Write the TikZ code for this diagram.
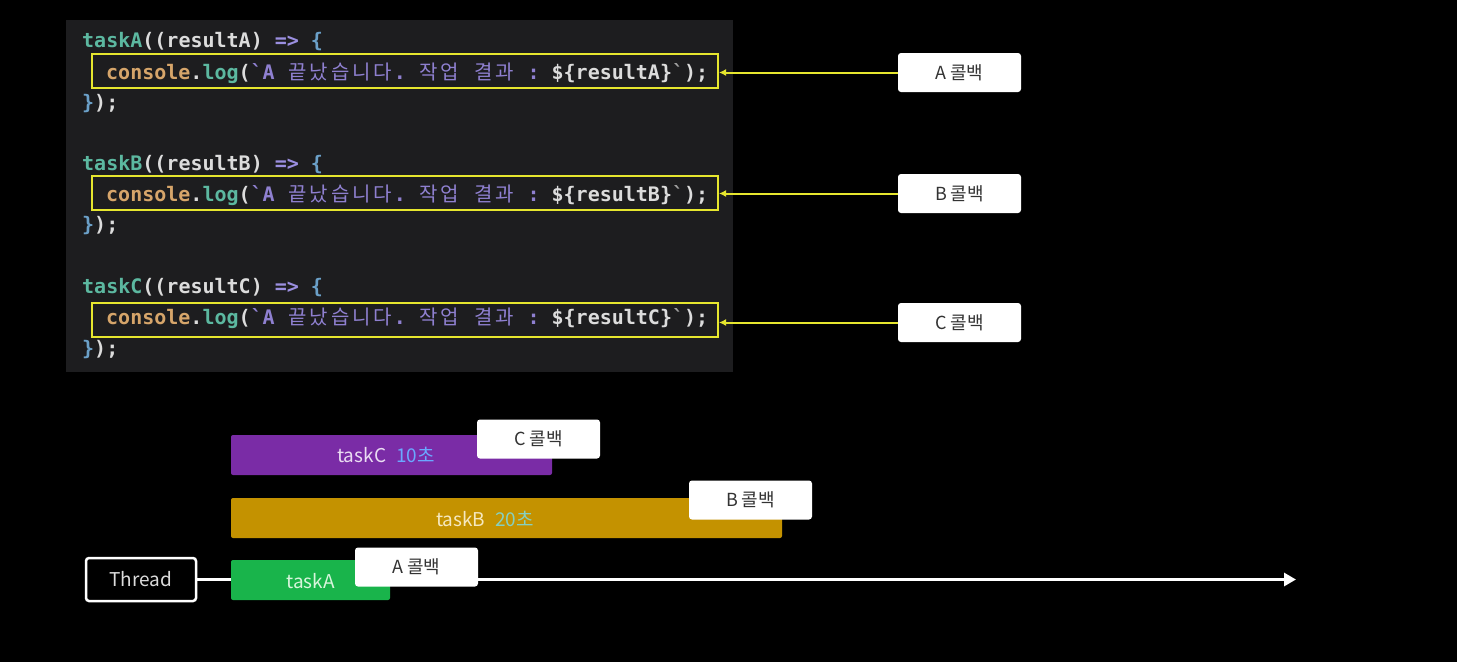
\documentclass[tikz,border=0pt]{standalone}
\usepackage{fontspec}
\usetikzlibrary{arrows.meta}
\setmainfont{Noto Sans CJK KR}
\setmonofont{DejaVu Sans Mono}
\newfontfamily\krf{Noto Sans CJK KR}
\definecolor{panel}{HTML}{1D1D1F}
\definecolor{cteal}{HTML}{5CB8A0}
\definecolor{cw}{HTML}{DCDCDC}
\definecolor{clav}{HTML}{9B8FE0}
\definecolor{cblue}{HTML}{6BA0C8}
\definecolor{ctan}{HTML}{D6A56A}
\definecolor{cpur}{HTML}{8F80D0}
\definecolor{cgray}{HTML}{A0A0A0}
\definecolor{cyel}{HTML}{E6E62E}
\definecolor{labtxt}{HTML}{333333}
\definecolor{cgreen}{HTML}{19B44B}
\definecolor{cpurple}{HTML}{7A2CA6}
\definecolor{cgold}{HTML}{C49200}
\definecolor{tC}{HTML}{EADDF2}
\definecolor{tCs}{HTML}{6AA8FF}
\definecolor{tB}{HTML}{F5E8C0}
\definecolor{tBs}{HTML}{86D0C0}
\definecolor{tA}{HTML}{D8F5DC}
\newcommand\kw[2]{\textcolor{#1}{#2}}
\makeatletter
\newcommand\ko[1]{{\krf\mdseries\@tfor\kx:=#1\do{\makebox[21.4pt]{\kx}}}}
\makeatother
\newcommand\bt{\symbol{96}}
\begin{document}
\begin{tikzpicture}[x=1pt,y=-1pt,
  code/.style={anchor=base west, inner sep=0pt, font=\ttfamily\bfseries\fontsize{20}{20}\selectfont, text=cw},
  ybox/.style={draw=cyel, line width=2pt, minimum width=626pt, minimum height=34pt, inner sep=0pt},
  lab/.style={fill=white, rounded corners=3pt, minimum width=123pt, minimum height=39pt, inner sep=0pt, text=labtxt, font=\fontsize{18}{18}\selectfont},
  yarrow/.style={draw=cyel, line width=2pt, -{Latex[length=7pt,width=7pt]}},
  bar/.style={rounded corners=2pt, minimum height=40pt, inner sep=0pt},
  bartxt/.style={inner sep=0pt, font=\fontsize{19}{19}\selectfont},
  thread/.style={draw=white, line width=2.5pt, fill=black, rounded corners=3pt, minimum width=110pt, minimum height=43pt, inner sep=0pt, text=cw, font=\fontsize{19}{19}\selectfont},
  tarrow/.style={draw=white, line width=3pt, -{Triangle[length=12pt,width=13pt]}}]
\fill[black] (0,0) rectangle (1457,662);
\useasboundingbox (0,0) rectangle (1457,662);
% code panel
\fill[panel] (66,20) rectangle (733,372);
% block A
\node[code] (a1) at (82,47) {\kw{cteal}{taskA}((resultA) \kw{clav}{=>} \kw{cblue}{\{}};
\node[code] (a2) at (106,79) {\kw{ctan}{console}.\kw{cteal}{log}(\kw{cpur}{\bt A \ko{끝났습니다}. \ko{작업} \ko{결과} :} \$\{resultA\}\kw{cgray}{\bt});};
\node[code] (a3) at (82,109) {\kw{cblue}{\}});};
% block B
\node[code] (b1) at (82,170) {\kw{cteal}{taskB}((resultB) \kw{clav}{=>} \kw{cblue}{\{}};
\node[code] (b2) at (106,201) {\kw{ctan}{console}.\kw{cteal}{log}(\kw{cpur}{\bt A \ko{끝났습니다}. \ko{작업} \ko{결과} :} \$\{resultB\}\kw{cgray}{\bt});};
\node[code] (b3) at (82,231) {\kw{cblue}{\}});};
% block C
\node[code] (c1) at (82,293) {\kw{cteal}{taskC}((resultC) \kw{clav}{=>} \kw{cblue}{\{}};
\node[code] (c2) at (106,324) {\kw{ctan}{console}.\kw{cteal}{log}(\kw{cpur}{\bt A \ko{끝났습니다}. \ko{작업} \ko{결과} :} \$\{resultC\}\kw{cgray}{\bt});};
\node[code] (c3) at (82,355) {\kw{cblue}{\}});};
% yellow boxes
\node[ybox] (ya) at (405,70.5) {};
\node[ybox] (yb) at (405,192.5) {};
\node[ybox] (yc) at (405,319.5) {};
% labels
\node[lab] (la) at (959.5,72.5) {A 콜백};
\node[lab] (lb) at (959.5,193.5) {B 콜백};
\node[lab] (lc) at (959.5,322.5) {C 콜백};
\draw[yarrow] (la.west) -- (la.west -| ya.east);
\draw[yarrow] (lb.west) -- (lb.west -| yb.east);
\draw[yarrow] (lc.west) -- (lc.west -| yc.east);
% thread
\node[thread] (th) at (141,579.5) {Thread};
\coordinate (tend) at (1296,579);
\draw[tarrow] (th.east) -- (th.east -| tend);
% bars
\node[bar, fill=cpurple, minimum width=321pt] (bc) at (391.5,455) {};
\node[bartxt] (bct) at (386,455) {\textcolor{tC}{taskC}\hspace{10pt}\textcolor{tCs}{10초}};
\node[bar, fill=cgold, minimum width=551pt] (bb) at (506.5,518) {};
\node[bartxt] (bbt) at (485,519) {\textcolor{tB}{taskB}\hspace{10pt}\textcolor{tBs}{20초}};
\node[bar, fill=cgreen, minimum width=159pt] (ba) at (310.5,580) {};
\node[bartxt, text=tA] (bat) at (310.5,581) {taskA};
% callback labels on bars
\node[lab] (lc2) at (538.5,439) {C 콜백};
\node[lab] (lb2) at (750.5,500) {B 콜백};
\node[lab] (la2) at (416.5,567) {A 콜백};
\end{tikzpicture}
\end{document}
